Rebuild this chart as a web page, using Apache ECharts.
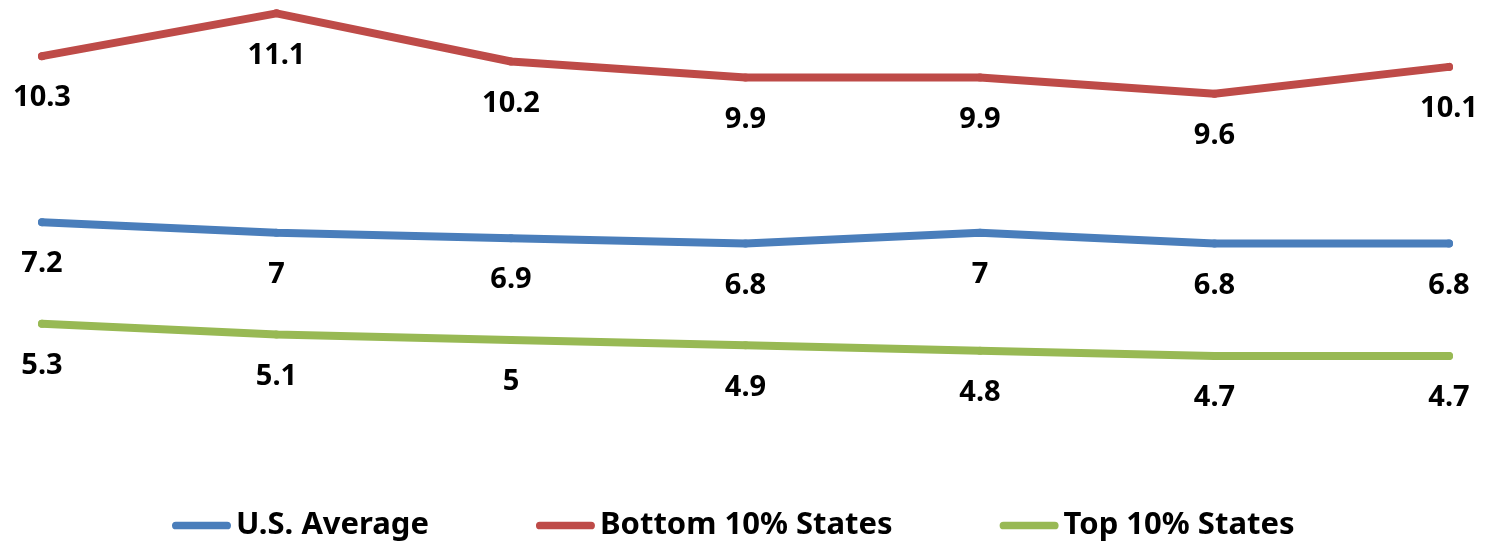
<!DOCTYPE html>
<html>
<head>
<meta charset="utf-8">
<script src="https://cdn.jsdelivr.net/npm/echarts@6/dist/echarts.min.js"></script>
<style>
  html, body { margin: 0; padding: 0; background: #fff; }
  #chart { width: 1493px; height: 542px; }
</style>
</head>
<body>
<div id="chart"></div>
<script>
// 横轴类别（图中未显示标签）
var categories = ["1", "2", "3", "4", "5", "6", "7"];
var seriesNames = ["U.S. Average", "Bottom 10% States", "Top 10% States"];
var usAverage = [7.2, 7, 6.9, 6.8, 7, 6.8, 6.8];
var bottom10 = [10.3, 11.1, 10.2, 9.9, 9.9, 9.6, 10.1];
var top10 = [5.3, 5.1, 5, 4.9, 4.8, 4.7, 4.7];

var colors = ["#4a7ebb", "#be4b48", "#98b954"];
var fontFamily = "'Noto Sans', 'Open Sans', sans-serif";

/**
 * 生成一条折线系列
 */
function makeLine(name, data, color) {
    return {
        name: name,
        type: "line",
        data: data,
        symbol: "circle",
        symbolSize: 8,
        itemStyle: { color: color },
        lineStyle: { color: color, width: 8, cap: "round", join: "round" },
        label: {
            show: true,
            position: "bottom",
            distance: 23,
            color: "#000",
            fontFamily: fontFamily,
            fontWeight: "bold",
            fontSize: 29,
            lineHeight: 30
        },
        emphasis: { disabled: true },
        animation: false
    };
}

var capsule = "path://M4,0 H57 A4,4 0 0 1 57,8 H4 A4,4 0 0 1 4,0 Z";

var chart = echarts.init(document.getElementById("chart"));
chart.setOption({
    backgroundColor: "#fff",
    animation: false,
    grid: { left: 42, right: 44, top: 8, bottom: 95 },
    xAxis: {
        type: "category",
        boundaryGap: false,
        data: categories,
        show: false
    },
    yAxis: {
        type: "value",
        min: 3,
        max: 11.2,
        show: false
    },
    legend: {
        left: 167,
        top: 505,
        itemWidth: 59,
        itemHeight: 9,
        itemGap: 107,
        data: seriesNames.map(function (n) { return { name: n, icon: capsule }; }),
        textStyle: {
            color: "#000",
            fontFamily: fontFamily,
            fontWeight: "bold",
            fontSize: 31
        }
    },
    series: [
        makeLine(seriesNames[0], usAverage, colors[0]),
        makeLine(seriesNames[1], bottom10, colors[1]),
        makeLine(seriesNames[2], top10, colors[2])
    ]
});
</script>
</body>
</html>
